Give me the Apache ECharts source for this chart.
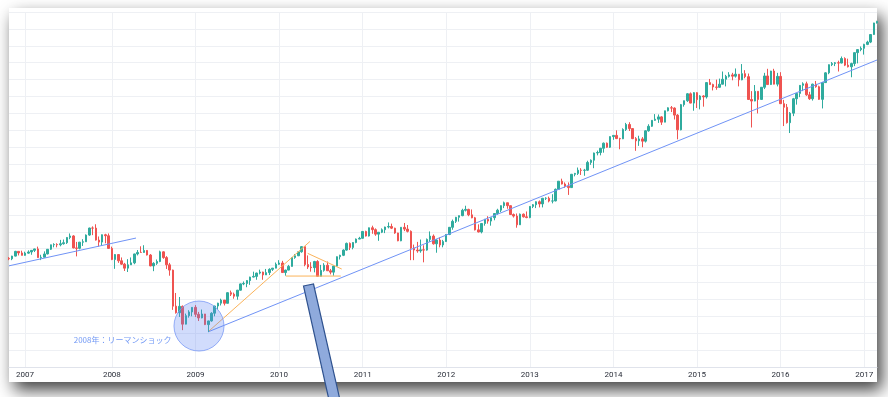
<!DOCTYPE html>
<html lang="ja">
<head>
<meta charset="UTF-8">
<title>NASDAQ 2007-2017</title>
<script src="https://cdn.jsdelivr.net/npm/echarts@6/dist/echarts.min.js"></script>
<style>
  html, body { margin: 0; padding: 0; background: #fff; }
  #chart { width: 888px; height: 397px; }
</style>
</head>
<body>
<div id="chart"></div>
<script>
// two-week candles, first one starts on this date
const startDate = '2006-10-16'
const stepDays = 14

const opens = [
  2357, 2350, 2390, 2460, 2437, 2401,
  2434, 2451, 2475, 2496, 2368, 2373, 2422, 2491, 2557, 2562, 2557, 2573, 2588, 2666, 2688, 2511, 2505, 2596, 2602, 2701, 2805, 2804, 2627, 2597, 2706, 2691,
  2504, 2340, 2413, 2321, 2271, 2212, 2261, 2290, 2422, 2445, 2444, 2474, 2406, 2245, 2283, 2310, 2453, 2368, 2261, 2183, 1650, 1552, 1647, 1384, 1509, 1564,
  1632, 1529, 1476, 1534, 1377, 1431, 1545, 1652, 1694, 1739, 1692, 1849, 1827, 1797, 1886, 1979, 1985, 2028, 2080, 2090, 2139, 2154, 2112, 2146, 2194, 2212,
  2269, 2288, 2147, 2183, 2238, 2368, 2395, 2454, 2530, 2265, 2229, 2219, 2310, 2092, 2179, 2255, 2173, 2153, 2242, 2381, 2402, 2479, 2578, 2518, 2591, 2642,
  2653, 2755, 2687, 2809, 2781, 2715, 2743, 2780, 2820, 2828, 2803, 2732, 2616, 2816, 2789, 2756, 2508, 2480, 2467, 2483, 2479, 2637, 2686, 2572, 2627, 2555,
  2605, 2710, 2816, 2904, 2964, 2988, 3068, 3081, 3000, 2956, 2778, 2747, 2872, 2935, 2908, 2958, 3020, 3069, 3136, 3179, 3136, 3005, 2982, 2853, 3010, 2971, 2960,
  3125, 3150, 3194, 3162, 3245, 3245, 3204, 3206, 3378, 3498, 3456, 3424, 3403, 3600, 3613, 3660, 3658, 3660, 3775, 3808, 3915, 3922, 3985, 4060, 4000, 4157,
  4175, 4128, 4125, 4263, 4336, 4276, 4127, 4095, 4123, 4090, 4243, 4310, 4398, 4415, 4449, 4371, 4539, 4583, 4579, 4475, 4258, 4630, 4688, 4791, 4653, 4807,
  4704, 4758, 4744, 4956, 4927, 4891, 4886, 4932, 5005, 5048, 5070, 5051, 5080, 4997, 5088, 5044, 4706, 4683, 4827, 4707, 4887, 5054, 4927, 5127, 4933, 5048,
  4644, 4591, 4363, 4504, 4717, 4796, 4915, 4938, 4775, 4717, 4933, 4895, 4708, 4956, 5100, 5221, 5238, 5249, 5245, 5312, 5214, 5190, 5237, 5399, 5444, 5463,
  5521, 5555, 5667, 5838
]
const closes = [
  2350, 2390, 2460, 2437, 2401, 2434,
  2451, 2475, 2496, 2368, 2373, 2422, 2491, 2557, 2562, 2557, 2573, 2588, 2666, 2688, 2511, 2505, 2596, 2602, 2701, 2805, 2804, 2627, 2597, 2706, 2691, 2504,
  2340, 2413, 2321, 2271, 2212, 2261, 2290, 2422, 2445, 2444, 2474, 2406, 2245, 2283, 2310, 2453, 2368, 2261, 2183, 1650, 1552, 1647, 1384, 1509, 1564, 1632,
  1529, 1476, 1534, 1377, 1431, 1545, 1652, 1694, 1739, 1692, 1849, 1827, 1797, 1886, 1979, 1985, 2028, 2080, 2090, 2139, 2154, 2112, 2146, 2194, 2212, 2269,
  2288, 2147, 2183, 2238, 2368, 2395, 2454, 2530, 2265, 2229, 2219, 2310, 2092, 2179, 2255, 2173, 2153, 2242, 2381, 2402, 2479, 2578, 2518, 2591, 2642, 2653,
  2755, 2687, 2809, 2781, 2715, 2743, 2780, 2820, 2828, 2803, 2732, 2616, 2816, 2789, 2756, 2508, 2480, 2467, 2483, 2479, 2637, 2686, 2572, 2627, 2555, 2605,
  2710, 2816, 2904, 2964, 2988, 3068, 3081, 3000, 2956, 2778, 2747, 2872, 2935, 2908, 2958, 3020, 3069, 3136, 3179, 3136, 3005, 2982, 2853, 3010, 2971, 2960, 3125,
  3150, 3194, 3162, 3245, 3245, 3204, 3206, 3378, 3498, 3456, 3424, 3403, 3600, 3613, 3660, 3658, 3660, 3775, 3808, 3915, 3922, 3985, 4060, 4000, 4157, 4175,
  4128, 4125, 4263, 4336, 4276, 4127, 4095, 4123, 4090, 4243, 4310, 4398, 4415, 4449, 4371, 4539, 4583, 4579, 4475, 4258, 4630, 4688, 4791, 4653, 4807, 4704,
  4758, 4744, 4956, 4927, 4891, 4886, 4932, 5005, 5048, 5070, 5051, 5080, 4997, 5088, 5044, 4706, 4683, 4827, 4707, 4887, 5054, 4927, 5127, 4933, 5048, 4644,
  4591, 4363, 4504, 4717, 4796, 4915, 4938, 4775, 4717, 4933, 4895, 4708, 4956, 5100, 5221, 5238, 5249, 5245, 5312, 5214, 5190, 5237, 5399, 5444, 5463, 5521,
  5555, 5667, 5838, 5860
]
const highs = [
  2375, 2395, 2468, 2465, 2470, 2455,
  2475, 2480, 2500, 2530, 2410, 2460, 2495, 2560, 2580, 2580, 2630, 2635, 2670, 2725, 2700, 2600, 2600, 2640, 2710, 2810, 2830, 2861, 2680, 2710, 2720, 2725,
  2530, 2420, 2415, 2370, 2290, 2345, 2370, 2425, 2480, 2535, 2551, 2480, 2420, 2300, 2340, 2470, 2460, 2390, 2290, 2190, 1845, 1785, 1660, 1540, 1590, 1635,
  1665, 1565, 1600, 1535, 1435, 1560, 1655, 1700, 1760, 1740, 1855, 1880, 1850, 1890, 1985, 2015, 2035, 2085, 2160, 2145, 2190, 2160, 2200, 2210, 2215, 2295,
  2330, 2320, 2190, 2260, 2370, 2420, 2460, 2535, 2535, 2400, 2300, 2320, 2330, 2260, 2285, 2310, 2200, 2250, 2385, 2410, 2490, 2590, 2592, 2595, 2650, 2675,
  2760, 2765, 2812, 2840, 2800, 2745, 2800, 2825, 2888, 2870, 2810, 2735, 2820, 2880, 2850, 2770, 2560, 2600, 2635, 2550, 2650, 2755, 2710, 2640, 2665, 2630,
  2715, 2820, 2930, 2970, 2990, 3090, 3135, 3090, 3080, 2970, 2860, 2880, 2940, 2980, 2960, 3025, 3090, 3140, 3196, 3180, 3140, 3020, 3020, 3020, 3020, 3050, 3130,
  3160, 3200, 3213, 3250, 3260, 3270, 3305, 3390, 3500, 3535, 3480, 3480, 3605, 3620, 3700, 3690, 3680, 3800, 3820, 3920, 3950, 3990, 4070, 4070, 4160, 4180,
  4250, 4140, 4280, 4360, 4370, 4280, 4150, 4170, 4150, 4250, 4340, 4400, 4490, 4485, 4460, 4540, 4590, 4610, 4590, 4490, 4640, 4690, 4800, 4810, 4815, 4815,
  4770, 4770, 4960, 5010, 4940, 5000, 5015, 5120, 5070, 5110, 5100, 5165, 5080, 5230, 5140, 5090, 4830, 4920, 4830, 4890, 5100, 5160, 5130, 5160, 5100, 5110,
  4700, 4640, 4520, 4730, 4800, 4920, 4960, 4970, 4820, 4940, 4980, 4910, 4960, 5110, 5225, 5260, 5260, 5280, 5342, 5330, 5310, 5250, 5400, 5450, 5490, 5530,
  5575, 5670, 5840, 5870
]
const lows = [
  2330, 2330, 2385, 2400, 2400, 2395,
  2425, 2410, 2450, 2365, 2331, 2370, 2415, 2480, 2520, 2520, 2535, 2560, 2570, 2640, 2505, 2386, 2490, 2540, 2600, 2690, 2700, 2620, 2530, 2540, 2580, 2500,
  2330, 2202, 2290, 2260, 2170, 2155, 2260, 2270, 2400, 2440, 2440, 2400, 2240, 2167, 2260, 2300, 2350, 2200, 2100, 1595, 1540, 1490, 1295, 1380, 1480, 1500,
  1490, 1430, 1470, 1370, 1265, 1420, 1500, 1600, 1660, 1660, 1690, 1800, 1760, 1745, 1880, 1960, 1930, 1965, 2075, 2040, 2120, 2040, 2110, 2110, 2170, 2210,
  2260, 2140, 2100, 2180, 2235, 2350, 2390, 2440, 2240, 2200, 2160, 2150, 2090, 2090, 2160, 2170, 2120, 2100, 2240, 2340, 2390, 2470, 2480, 2490, 2580, 2640,
  2650, 2680, 2680, 2720, 2690, 2616, 2730, 2730, 2800, 2790, 2720, 2610, 2610, 2760, 2740, 2330, 2330, 2440, 2440, 2298, 2470, 2600, 2560, 2440, 2520, 2520,
  2600, 2700, 2780, 2880, 2900, 2980, 3050, 2980, 2950, 2770, 2740, 2726, 2840, 2870, 2840, 2920, 3000, 3040, 3100, 3090, 3000, 2960, 2810, 2850, 2960, 2950, 2950,
  3100, 3100, 3110, 3110, 3220, 3185, 3170, 3200, 3370, 3450, 3400, 3295, 3400, 3570, 3590, 3590, 3578, 3650, 3740, 3690, 3880, 3880, 3920, 3990, 3990, 4110,
  4120, 3970, 4120, 4240, 4240, 4120, 3947, 4020, 4000, 4070, 4230, 4300, 4390, 4360, 4330, 4370, 4530, 4520, 4410, 4117, 4250, 4600, 4670, 4650, 4540, 4580,
  4560, 4600, 4720, 4920, 4840, 4850, 4880, 4930, 4900, 5030, 4990, 5030, 4900, 4990, 5020, 4700, 4292, 4680, 4500, 4700, 4860, 4920, 4920, 4930, 4900, 4640,
  4313, 4350, 4210, 4460, 4630, 4740, 4830, 4760, 4700, 4690, 4880, 4700, 4574, 4950, 5080, 5200, 5200, 5120, 5240, 5200, 5180, 5035, 5200, 5240, 5420, 5370,
  5510, 5540, 5660, 5830
]

// drawings, in [candle index, price]
const trend2007 = [[0, 2246], [39.5, 2657]]
const trend2009 = [[62.2, 1275], [270, 5290]]
const riseLine = [[62.2, 1282], [93.6, 2606]]
const baseLine = [[86.1, 2095], [103.2, 2095]]
const topLine = [[92.9, 2431], [103.5, 2199]]
const lehmanCircle = [[59.1, 1356]]
const lehmanText = '2008年：リーマンショック'

const DAY = 86400000
const dates = opens.map((_, i) => new Date(Date.parse(startDate) + i * stepDays * DAY).toISOString().slice(0, 10))
const candles = dates.map((_, i) => [opens[i], closes[i], lows[i], highs[i]])

// the candle whose two weeks are nearest to 1 January
function isYearTick (index, value) {
  const t = Date.parse(value)
  return new Date(t - 7 * DAY).getUTCFullYear() !== new Date(t + 7 * DAY).getUTCFullYear()
}
function yearLabel (value) {
  return String(new Date(Date.parse(value) + 7 * DAY).getUTCFullYear())
}

function drawing (data, color) {
  return {
    type: 'line',
    xAxisIndex: 1,
    data: data,
    symbol: 'none',
    silent: true,
    lineStyle: { color: color, width: 1 },
    z: 5
  }
}

const chart = echarts.init(document.getElementById('chart'))

chart.setOption({
  animation: false,
  backgroundColor: '#fff',
  grid: { left: 9, right: 11, top: 12, bottom: 30 },
  xAxis: [
    {
      type: 'category',
      data: dates,
      boundaryGap: false,
      axisLine: { lineStyle: { color: '#e0e3eb' } },
      axisTick: { show: false },
      axisLabel: {
        interval: isYearTick,
        formatter: yearLabel,
        color: '#2a2e39',
        fontSize: 8,
        fontFamily: 'Roboto',
        margin: 4
      },
      splitLine: { show: true, interval: isYearTick, lineStyle: { color: '#eef0f4' } }
    },
    { type: 'value', min: 0, max: opens.length - 1, show: false }
  ],
  yAxis: {
    type: 'value',
    min: 750,
    max: 6000,
    interval: 250,
    axisLine: { show: false },
    axisTick: { show: false },
    axisLabel: { show: false },
    splitLine: { lineStyle: { color: '#eef0f4' } }
  },
  series: [
    {
      type: 'candlestick',
      data: candles,
      barWidth: 2,
      itemStyle: {
        color: '#2fab9e',
        color0: '#ef5350',
        borderColor: '#2fab9e',
        borderColor0: '#ef5350',
        borderWidth: 1
      }
    },
    drawing(trend2007, '#7093f6'),
    drawing(trend2009, '#7093f6'),
    drawing(riseLine, '#fbb35a'),
    drawing(baseLine, '#fbb35a'),
    drawing(topLine, '#fbb35a'),
    {
      type: 'scatter',
      xAxisIndex: 1,
      data: lehmanCircle,
      symbol: 'circle',
      symbolSize: 50,
      silent: true,
      z: 6,
      itemStyle: { color: 'rgba(95, 135, 245, 0.36)', borderColor: '#7b9af5', borderWidth: 1 },
      label: {
        show: true,
        position: 'left',
        distance: 2,
        offset: [0, 14],
        formatter: lehmanText,
        color: '#4f7ff2',
        fontSize: 8,
        fontFamily: 'Noto Sans CJK JP'
      }
    }
  ],
  graphic: {
    elements: [
      {
        type: 'rect',
        z: -10,
        silent: true,
        shape: { x: 9, y: 8, width: 868, height: 374 },
        style: { fill: '#fff', shadowBlur: 16, shadowColor: 'rgba(0, 0, 0, 0.75)', shadowOffsetX: 5, shadowOffsetY: 8 }
      },
      {
        type: 'polygon',
        z: 100,
        silent: true,
        shape: { points: [[303.5, 286], [313.5, 284], [340, 400], [329, 400]] },
        style: { fill: '#8faadc', stroke: '#2f528f', lineWidth: 1.2 }
      }
    ]
  }
})
</script>
</body>
</html>
